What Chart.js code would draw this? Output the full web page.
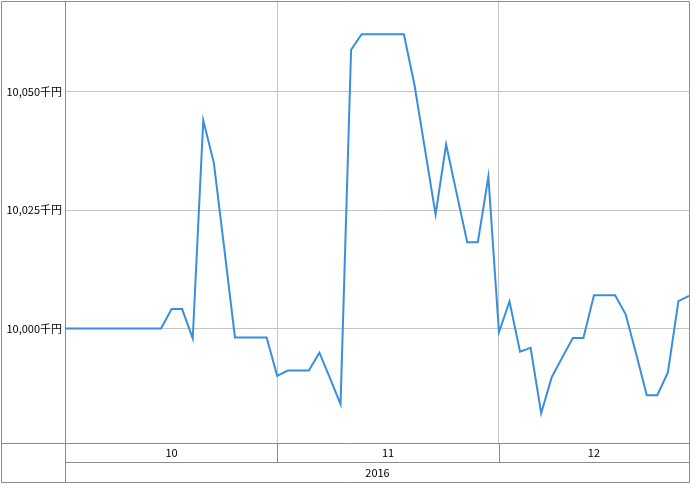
<!DOCTYPE html>
<html>
<head>
<meta charset="utf-8">
<script src="https://cdn.jsdelivr.net/npm/chart.js@4"></script>
<style>
  body { margin: 0; background: #fff; }
</style>
</head>
<body>
<canvas id="chart" width="690" height="484"></canvas>
<script>
// 評価額（千円）、営業日ごと
const values = [
  10000, 10000, 10000, 10000, 10000, 10000, 10000, 10000, 10000, 10000,
  10004.1, 10004.1, 9997.9, 10044.0, 10035.0, 10016.7, 9998.1, 9998.1, 9998.1, 9998.1,
  9990.0, 9991.1, 9991.1, 9991.1, 9994.9, 9989.5, 9984.0, 10058.9, 10062.2, 10062.2,
  10062.2, 10062.2, 10062.2, 10051.5, 10037.8, 10024.1, 10038.9, 10028.5, 10018.2, 10018.2,
  10032.1, 9999.2, 10005.7, 9995.1, 9995.9, 9982.1, 9989.7, 9993.9, 9998.0, 9998.0,
  10007.0, 10007.0, 10007.0, 10003.0, 9994.6, 9985.9, 9985.9, 9990.7, 10005.8, 10006.9
];
const monthLabels = ['10', '11', '12'];
const monthStarts = [0, 20, 41];   // 各月の最初のデータ位置
const yearLabel = '2016';
const yTicks = [10000, 10025, 10050];

const FONT = '"Noto Sans CJK JP", "Noto Sans", sans-serif';
const FRAME = '#8c8c8c';
const GRID = '#c4c4c4';

// 下の月・年の行と外枠
const framePlugin = {
  id: 'frame',
  afterDraw(chart) {
    const ctx = chart.ctx;
    const area = chart.chartArea;
    const xs = chart.scales.x;
    const left = area.left - 0.5;
    const right = area.right + 0.5;
    const rowTop = area.bottom + 0.5;
    const rowMid = rowTop + 19;
    const bottom = chart.height - 1.5;

    ctx.save();
    ctx.strokeStyle = FRAME;
    ctx.lineWidth = 1;
    ctx.beginPath();
    // 外枠
    ctx.rect(1.5, 1.5, right - 1.5, bottom - 1.5);
    // 左の列
    ctx.moveTo(left, 1.5); ctx.lineTo(left, bottom);
    // 行
    ctx.moveTo(1.5, rowTop); ctx.lineTo(right, rowTop);
    ctx.moveTo(left, rowMid); ctx.lineTo(right, rowMid);
    // 月の区切り
    monthStarts.slice(1).forEach(v => {
      const x = Math.round(xs.getPixelForValue(v)) + 0.5;
      ctx.moveTo(x, rowTop); ctx.lineTo(x, rowMid);
    });
    ctx.stroke();

    ctx.fillStyle = '#000';
    ctx.font = '11px ' + FONT;
    ctx.textAlign = 'center';
    ctx.textBaseline = 'middle';
    monthLabels.forEach((m, i) => {
      const x0 = xs.getPixelForValue(monthStarts[i]);
      const x1 = i + 1 < monthStarts.length ? xs.getPixelForValue(monthStarts[i + 1]) : area.right;
      ctx.fillText(m, (x0 + x1) / 2, rowTop + 9.5);
    });
    ctx.fillText(yearLabel, (area.left + area.right) / 2, rowMid + 10);
    ctx.restore();
  }
};

new Chart(document.getElementById('chart'), {
  type: 'line',
  data: {
    datasets: [{
      data: values.map((v, i) => ({ x: i, y: v })),
      borderColor: '#3a8ede',
      borderWidth: 2,
      pointRadius: 0,
      tension: 0,
      fill: false
    }]
  },
  options: {
    responsive: false,
    animation: false,
    layout: { padding: { left: 1, right: 1, top: 2, bottom: 41 } },
    plugins: { legend: { display: false }, tooltip: { enabled: false } },
    scales: {
      x: {
        type: 'linear',
        min: 0,
        max: values.length - 1,
        afterBuildTicks: scale => { scale.ticks = monthStarts.slice(1).map(v => ({ value: v })); },
        afterFit: scale => { scale.height = 0; scale.paddingLeft = 0; scale.paddingRight = 0; },
        ticks: { display: false },
        grid: { color: GRID, drawTicks: false },
        border: { display: false }
      },
      y: {
        min: 9975.8,
        max: 10069,
        afterBuildTicks: scale => { scale.ticks = yTicks.map(v => ({ value: v })); },
        afterFit: scale => { scale.width = 65; scale.paddingTop = 0; scale.paddingBottom = 0; },
        ticks: {
          padding: 4,
          color: '#000',
          font: { family: FONT, size: 11 },
          callback: v => v.toLocaleString('en-US') + '千円'
        },
        grid: { color: GRID, drawTicks: false },
        border: { display: false }
      }
    }
  },
  plugins: [framePlugin]
});
</script>
</body>
</html>
